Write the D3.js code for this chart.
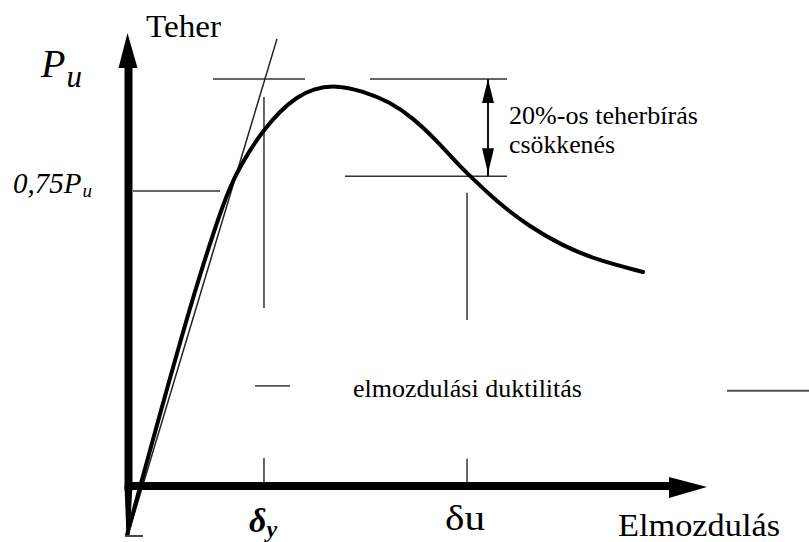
<!DOCTYPE html>
<html><head><meta charset="utf-8">
<script src="https://cdn.jsdelivr.net/npm/d3@7"></script>
<style>html,body{margin:0;padding:0;background:#fff}svg{display:block}</style>
</head><body>
<script>
// ---- data (displacement units, load units: Pu = 100) ----
const curveX = [0, 2.17, 4.67, 7.17, 10.0, 12.67, 15.5, 17.67, 20.5, 22.67, 25.5, 28.33, 31.0, 34.67, 39.33, 43.83, 47.67, 51.67, 55.0, 57.17, 61.67, 67.17, 72.67, 78.33, 86.0];
const curveY = [-4.59, 6.42, 19.04, 31.42, 45.18, 57.34, 69.27, 77.06, 83.72, 88.07, 92.66, 95.87, 97.71, 98.62, 97.25, 94.72, 91.06, 85.78, 80.73, 77.75, 71.79, 66.06, 61.70, 58.49, 55.73];
const secantX = [0.5, 25];
const secantY = [-3.0, 109.2];
const PU = 100, P075 = 75, PDROP = 77.7;
const deltaY = 22.83, deltaU = 56.67;
const labels = {teher: "Teher", elmoz: "Elmozdulás", drop1: "20%-os teherbírás", drop2: "csökkenés", duct: "elmozdulási duktilitás"};

const W = 809, H = 542;
const x = d3.scaleLinear().domain([0, 100]).range([127, 727]);
const y = d3.scaleLinear().domain([0, 100]).range([515, 79]);
const axisX0 = 0.25, axisY0 = 6.65;

const svg = d3.select("body").append("svg").attr("width", W).attr("height", H);
const serif = "'Liberation Serif', 'DejaVu Serif', serif";

function seg(x1, y1, x2, y2, w, c) {
  svg.append("line").attr("x1", x(x1)).attr("y1", y(y1)).attr("x2", x(x2)).attr("y2", y(y2))
    .attr("stroke", c || "#333").attr("stroke-width", w || 1.5);
}
seg(14.33, PU, 29.67, PU);
seg(40.5, PU, 63.33, PU);
seg(36.33, PDROP, 63.33, PDROP);
seg(1, P075 - 0.7, 15.5, P075 - 0.7);
seg(deltaY, 95.9, deltaY, 47.5);
seg(deltaY, 13.1, deltaY, axisY0);
seg(deltaU, 73.9, deltaU, 44.7);
seg(deltaU, 12.9, deltaU, axisY0);
seg(21.33, 29.6, 27.17, 29.6, 1.8, "#555");
seg(100, 28.5, 114, 28.5, 1.8, "#555");

const ax = x(60.17);
seg(60.17, PU, 60.17, PDROP, 2, "#111");
svg.append("path").attr("d", `M${ax},${y(PU)} L${ax-6},${y(PU)+24} L${ax+6},${y(PU)+24} Z`).attr("fill", "#000");
svg.append("path").attr("d", `M${ax},${y(PDROP)-3} L${ax-6},${y(PDROP)-28} L${ax+6},${y(PDROP)-28} Z`).attr("fill", "#000");

svg.append("path").datum(d3.range(secantX.length))
  .attr("d", d3.line().x(i => x(secantX[i])).y(i => y(secantY[i])))
  .attr("fill", "none").attr("stroke", "#222").attr("stroke-width", 1.5);

svg.append("path").datum(d3.range(curveX.length))
  .attr("d", d3.line().x(i => x(curveX[i])).y(i => y(curveY[i])).curve(d3.curveBasis))
  .attr("fill", "none").attr("stroke", "#000").attr("stroke-width", 4).attr("stroke-linecap", "round");

const ox = x(axisX0), oy = y(axisY0);
svg.append("line").attr("x1", ox).attr("y1", 60).attr("x2", ox).attr("y2", oy + 4).attr("stroke", "#000").attr("stroke-width", 8);
svg.append("path").attr("d", `M${ox-4},${oy} L${ox+4},${oy} L${ox+1},536 L${ox-2},536 Z`).attr("fill", "#000");
svg.append("path").attr("d", `M${ox-1},33 L${ox+9},68 L${ox-10},68 Z`).attr("fill", "#000");
svg.append("line").attr("x1", ox).attr("y1", oy).attr("x2", 675).attr("y2", oy).attr("stroke", "#000").attr("stroke-width", 8);
svg.append("path").attr("d", `M669,${oy-9} L707,${oy+1} L669,${oy+12} Z`).attr("fill", "#000");
svg.append("line").attr("x1", 125).attr("y1", 536).attr("x2", 143).attr("y2", 536).attr("stroke", "#444").attr("stroke-width", 2);

function txt(s, tx, ty, size, opts) {
  opts = opts || {};
  const t = svg.append("text").attr("x", tx).attr("y", ty).attr("font-family", serif)
    .attr("font-size", size).attr("fill", "#000").text(s);
  if (opts.italic) t.attr("font-style", "italic");
  if (opts.bold) t.attr("font-weight", "bold");
  if (opts.len) t.attr("textLength", opts.len).attr("lengthAdjust", "spacingAndGlyphs");
  return t;
}
function sub(base, s, size, dx, dy, italic, bold) {
  const t = base.append("tspan").attr("font-size", size).attr("dx", dx).attr("dy", dy).text(s);
  if (italic) t.attr("font-style", "italic");
  if (bold) t.attr("font-weight", "bold");
  return t;
}
txt(labels.teher, 146, 37, 32, {len: 75});
sub(txt("P", 41, 77, 40, {italic: true}), "u", 31, 1, 10, true);
sub(txt("0,75P", 13, 193, 29, {italic: true}), "u", 19, 1, 4, true);
txt(labels.drop1, 509, 124, 25, {len: 189});
txt(labels.drop2, 509, 153, 25, {len: 106});
txt(labels.duct, 353, 397, 26, {len: 229});
sub(txt("δ", 249, 532, 34, {italic: true, bold: true}), "y", 24, 0, 5, true, true);
txt("δu", 445, 530, 36, {len: 40});
txt(labels.elmoz, 618, 536, 31, {len: 162});
</script>
</body></html>
